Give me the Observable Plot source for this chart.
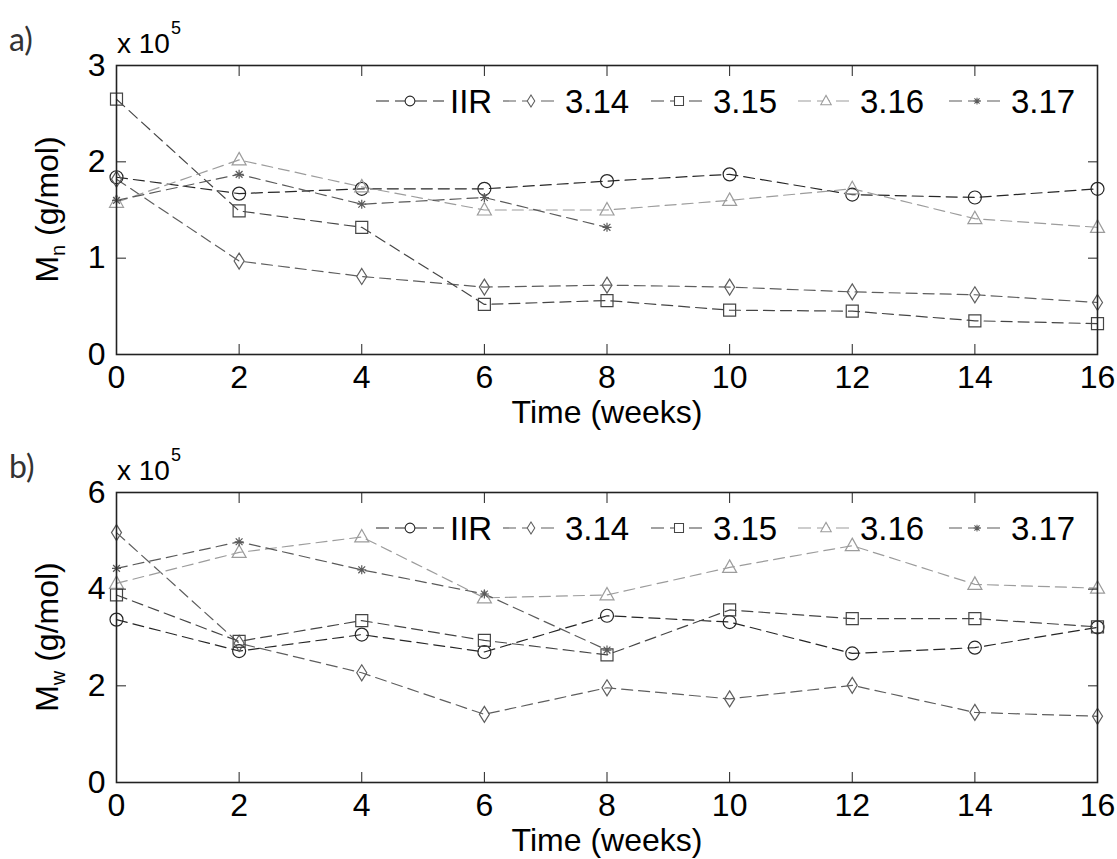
<!DOCTYPE html>
<html><head><meta charset="utf-8">
<script src="https://cdn.jsdelivr.net/npm/d3@7"></script>
<script src="https://cdn.jsdelivr.net/npm/@observablehq/plot@0.6"></script>
<style>
html,body{margin:0;padding:0;background:#fff;}
#chart{width:1117px;}
#chart svg{display:block;}
</style></head><body><div id="chart"></div>
<script>
// ---- data (molecular weights in units of 10^5 g/mol) ----
const weeks = [0, 2, 4, 6, 8, 10, 12, 14, 16];
const seriesNames = ["IIR", "3.14", "3.15", "3.16", "3.17"];
const seriesColors = ["#262626", "#5e5e5e", "#454545", "#9c9c9c", "#5a5a5a"];

// panel a) Mn
const mnIIR  = [1.84, 1.67, 1.72, 1.72, 1.80, 1.87, 1.66, 1.63, 1.72];
const mn314  = [1.82, 0.97, 0.81, 0.70, 0.72, 0.70, 0.65, 0.62, 0.54];
const mn315  = [2.65, 1.49, 1.32, 0.52, 0.56, 0.46, 0.45, 0.35, 0.32];
const mn316  = [1.58, 2.02, 1.74, 1.50, 1.50, 1.60, 1.72, 1.41, 1.32];
const mn317  = [1.60, 1.87, 1.56, 1.63, 1.32];

// panel b) Mw
const mwIIR  = [3.37, 2.72, 3.06, 2.70, 3.45, 3.32, 2.67, 2.79, 3.21];
const mw314  = [5.17, 2.88, 2.27, 1.41, 1.96, 1.73, 2.01, 1.45, 1.37];
const mw315  = [3.88, 2.92, 3.35, 2.94, 2.64, 3.57, 3.39, 3.39, 3.22];
const mw316  = [4.12, 4.76, 5.08, 3.82, 3.88, 4.45, 4.90, 4.10, 4.02];
const mw317  = [4.43, 4.98, 4.40, 3.90, 2.74];

const xTicks = [0, 2, 4, 6, 8, 10, 12, 14, 16];
const mnTicks = [0, 1, 2, 3];
const mwTicks = [0, 2, 4, 6];

const FONT = "'Liberation Sans', Arial, Helvetica, sans-serif";
const W = 1117;

// ---- marker shapes (MATLAB-like open markers) ----
const sym = f => ({draw(ctx) { f(ctx); }});
const symCircle = sym(c => { c.moveTo(6.5, 0); c.arc(0, 0, 6.5, 0, 2 * Math.PI); });
const symDiamond = sym(c => { c.moveTo(0, -8); c.lineTo(5, 0); c.lineTo(0, 8); c.lineTo(-5, 0); c.closePath(); });
const symSquare = sym(c => { c.moveTo(-6, -6); c.lineTo(6, -6); c.lineTo(6, 6); c.lineTo(-6, 6); c.closePath(); });
const symTriangle = sym(c => { c.moveTo(0, -7.5); c.lineTo(7, 5); c.lineTo(-7, 5); c.closePath(); });
const symStar = sym(c => {
  c.moveTo(-4.5, 0); c.lineTo(4.5, 0); c.moveTo(0, -4.5); c.lineTo(0, 4.5);
  c.moveTo(-3.4, -3.4); c.lineTo(3.4, 3.4); c.moveTo(3.4, -3.4); c.lineTo(-3.4, 3.4);
});
const symbols = [symCircle, symDiamond, symSquare, symTriangle, symStar];

function rows(list) {
  return seriesNames.flatMap((s, i) => list[i].map((v, j) => ({series: s, t: weeks[j], v})));
}

function panel(data, yTicks, o) {
  return Plot.plot({
    width: W, height: o.height,
    marginTop: o.mt, marginBottom: o.mb, marginLeft: 116, marginRight: 20,
    style: {fontFamily: FONT, fontSize: "32px", color: "#000", background: "transparent", overflow: "visible"},
    x: {domain: [0, 16]},
    y: {domain: [0, yTicks[yTicks.length - 1]]},
    color: {domain: seriesNames, range: seriesColors},
    symbol: {domain: seriesNames, range: symbols},
    marks: [
      Plot.line(data, {x: "t", y: "v", z: "series", stroke: "series", strokeWidth: 1.2, strokeDasharray: "11,6"}),
      Plot.dot(data, {x: "t", y: "v", symbol: "series", stroke: "series", fill: "none", strokeWidth: 1.2}),
      Plot.axisX({anchor: "bottom", ticks: xTicks, tickSize: -10, tickPadding: 21, label: null, tickFormat: d => d, stroke: "#222", fill: "#000"}),
      Plot.axisX({anchor: "top", ticks: xTicks, tickSize: -10, label: null, tickFormat: () => "", stroke: "#222"}),
      Plot.axisY({anchor: "left", ticks: yTicks, tickSize: -10, tickPadding: 21, label: null, tickFormat: d => d, stroke: "#222", fill: "#000"}),
      Plot.axisY({anchor: "right", ticks: yTicks, tickSize: -10, label: null, tickFormat: () => "", stroke: "#222"}),
      Plot.frame({stroke: "#222", strokeWidth: 1.6}),
      Plot.text(["Time (weeks)"], {text: d => d, frameAnchor: "bottom", lineAnchor: "top", dy: 46, fontSize: 32, fill: "#000"})
    ]
  });
}

function decorate(svg, o) {
  const s = d3.select(svg);
  const top = o.mt, bottom = o.height - o.mb;
  // panel letter
  s.append("text").attr("x", 9).attr("y", top - 14).attr("text-anchor", "start")
    .attr("font-family", "Lato, 'Open Sans', sans-serif").attr("font-size", 32).attr("fill", "#333")
    .text(o.letter);
  // exponent
  const ex = s.append("text").attr("x", 117).attr("y", top - 12).attr("text-anchor", "start")
    .attr("font-family", FONT).attr("font-size", 28).attr("fill", "#000");
  ex.append("tspan").text("x 10");
  ex.append("tspan").attr("font-size", 18).attr("dy", -19).attr("dx", 1).text("5");
  // y label
  const yl = s.append("text")
    .attr("transform", `translate(58,${(top + bottom) / 2}) rotate(-90)`)
    .attr("text-anchor", "middle").attr("font-family", FONT).attr("font-size", 32).attr("fill", "#000");
  yl.append("tspan").text("M");
  yl.append("tspan").attr("font-size", 20).attr("dy", 7).text(o.sub);
  yl.append("tspan").attr("dy", -7).text(" (g/mol)");
  // legend
  const legX = [450, 565, 713, 860, 1011];
  const ly = top + 48, cy = top + 36;
  seriesNames.forEach((name, i) => {
    const x0 = legX[i] - (i === 0 ? 74 : 62), x1 = legX[i] - 6, xm = (x0 + x1) / 2;
    s.append("line").attr("x1", x0).attr("x2", x1).attr("y1", cy).attr("y2", cy)
      .attr("stroke", seriesColors[i]).attr("stroke-width", 1.2).attr("stroke-dasharray", "13,6");
    const p = d3.path(); symbols[i].draw(p);
    s.append("path").attr("d", p.toString()).attr("transform", `translate(${xm},${cy}) scale(0.75)`)
      .attr("fill", "#fff").attr("stroke", seriesColors[i]).attr("stroke-width", 1.4);
    s.append("text").attr("x", legX[i]).attr("y", ly).attr("text-anchor", "start")
      .attr("font-family", FONT).attr("font-size", 33).attr("fill", "#000").text(name);
  });
}

const chart = document.getElementById("chart");
const oA = {height: 430, mt: 65, mb: 76, letter: "a)", sub: "n"};
const oB = {height: 429, mt: 62, mb: 77, letter: "b)", sub: "w"};
const svgA = panel(rows([mnIIR, mn314, mn315, mn316, mn317]), mnTicks, oA);
const svgB = panel(rows([mwIIR, mw314, mw315, mw316, mw317]), mwTicks, oB);
chart.appendChild(svgA); chart.appendChild(svgB);
decorate(svgA, oA); decorate(svgB, oB);
</script>
</body></html>
